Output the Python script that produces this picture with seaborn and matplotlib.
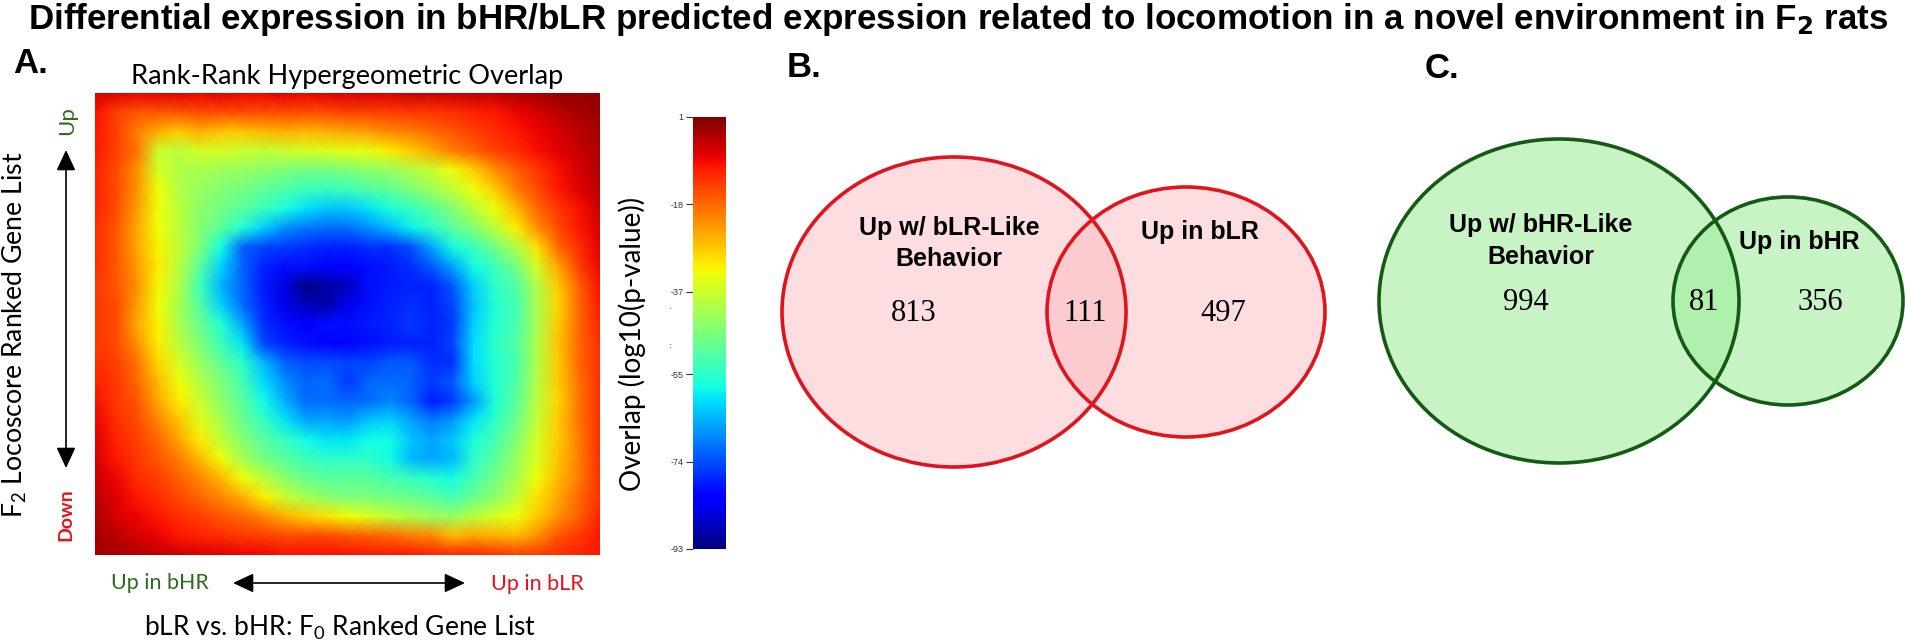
import numpy as np
import seaborn as sns
import matplotlib.pyplot as plt
from matplotlib.patches import Ellipse

# overlap surface on a coarse grid (top row first)
row00 = [-6,-7,-8,-7,-7,-8,-7,-8,-8,-7,-8,-7,-6,-6,-6,-5,-5,-5,-4,-4,-3,-2,-1,-1,-1]
row01 = [-9,-14,-16,-16,-16,-15,-15,-15,-15,-15,-15,-15,-14,-14,-14,-13,-13,-12,-11,-10,-8,-6,-4,-2,-1]
row02 = [-10,-14,-20,-25,-28,-25,-27,-27,-26,-25,-26,-25,-24,-23,-21,-20,-18,-16,-14,-12,-10,-8,-6,-4,-2]
row03 = [-10,-14,-19,-37,-39,-36,-36,-37,-38,-37,-36,-35,-34,-34,-31,-28,-24,-20,-17,-14,-12,-9,-7,-5,-3]
row04 = [-11,-15,-22,-36,-40,-41,-42,-43,-44,-46,-47,-47,-46,-44,-43,-40,-37,-33,-28,-22,-17,-13,-9,-6,-3]
row05 = [-11,-15,-22,-33,-40,-43,-45,-47,-49,-51,-53,-54,-53,-51,-49,-46,-42,-38,-33,-28,-20,-15,-10,-7,-4]
row06 = [-11,-15,-23,-33,-39,-44,-47,-50,-53,-57,-60,-63,-63,-60,-57,-54,-50,-45,-39,-33,-26,-18,-13,-9,-5]
row07 = [-12,-16,-24,-33,-39,-45,-50,-56,-62,-68,-70,-71,-71,-68,-64,-59,-55,-50,-45,-39,-31,-22,-15,-10,-6]
row08 = [-12,-16,-24,-32,-38,-46,-58,-72,-75,-76,-77,-78,-78,-77,-77,-74,-66,-58,-53,-47,-40,-30,-18,-12,-7]
row09 = [-12,-16,-23,-31,-39,-50,-62,-72,-78,-80,-80,-81,-81,-80,-79,-77,-73,-66,-58,-53,-47,-36,-24,-14,-8]
row10 = [-13,-16,-22,-32,-40,-53,-65,-72,-79,-85,-92,-90,-88,-80,-79,-78,-78,-73,-62,-55,-51,-40,-28,-17,-9]
row11 = [-13,-15,-23,-33,-41,-51,-62,-71,-78,-84,-88,-89,-84,-80,-78,-77,-78,-75,-63,-56,-52,-41,-29,-18,-10]
row12 = [-13,-15,-24,-32,-41,-48,-56,-66,-77,-80,-81,-80,-80,-79,-78,-76,-78,-76,-62,-56,-52,-41,-28,-18,-11]
row13 = [-13,-15,-22,-31,-39,-46,-53,-60,-75,-78,-80,-81,-81,-80,-79,-78,-78,-75,-61,-55,-51,-40,-27,-18,-12]
row14 = [-12,-14,-19,-29,-36,-43,-49,-55,-64,-72,-74,-74,-75,-75,-73,-73,-77,-77,-61,-56,-52,-40,-28,-18,-12]
row15 = [-11,-13,-18,-26,-33,-40,-46,-52,-61,-68,-72,-71,-76,-72,-71,-72,-76,-73,-62,-56,-51,-40,-28,-19,-12]
row16 = [-9,-13,-16,-24,-31,-37,-44,-50,-58,-65,-71,-71,-72,-71,-69,-72,-79,-76,-67,-57,-50,-39,-29,-19,-12]
row17 = [-8,-12,-15,-21,-27,-35,-41,-48,-54,-60,-66,-66,-67,-63,-62,-66,-70,-67,-60,-55,-48,-38,-28,-19,-12]
row18 = [-7,-11,-14,-18,-24,-31,-38,-45,-50,-54,-58,-60,-60,-58,-58,-63,-66,-63,-57,-52,-45,-36,-28,-20,-12]
row19 = [-6,-10,-13,-16,-20,-26,-33,-41,-47,-50,-53,-55,-55,-55,-58,-64,-66,-64,-55,-50,-43,-35,-27,-20,-12]
row20 = [-5,-8,-12,-14,-17,-21,-26,-33,-39,-44,-48,-50,-50,-50,-52,-54,-56,-58,-52,-47,-41,-33,-26,-20,-12]
row21 = [-4,-7,-10,-12,-15,-18,-21,-25,-31,-37,-41,-44,-46,-46,-47,-48,-50,-52,-48,-44,-38,-30,-24,-18,-12]
row22 = [-3,-6,-8,-10,-12,-14,-16,-18,-21,-25,-28,-30,-33,-35,-38,-40,-42,-43,-39,-36,-33,-28,-22,-17,-11]
row23 = [-2,-4,-6,-8,-10,-11,-12,-13,-14,-15,-15,-15,-16,-17,-18,-20,-21,-26,-24,-25,-26,-22,-16,-13,-10]
row24 = [-2,-2,-3,-4,-5,-6,-7,-8,-8,-9,-9,-9,-9,-10,-10,-10,-11,-11,-11,-12,-13,-13,-12,-11,-10]
overlap = np.array([row00, row01, row02, row03, row04, row05, row06, row07, row08, row09,
                    row10, row11, row12, row13, row14, row15, row16, row17, row18, row19,
                    row20, row21, row22, row23, row24])

cbar_ticks = [1, -18, -37, -55, -74, -93]
counts_b = ["813", "111", "497"]
counts_c = ["994", "81", "356"]

W, H = 1908, 644
sns.set_theme(style="white")
plt.rcParams["font.family"] = ["Lato", "DejaVu Sans"]
plt.rcParams["mathtext.default"] = "regular"

fig = plt.figure(figsize=(W / 100, H / 100), dpi=100)


def px_axes(x0, y0, x1, y1, **kw):
    return fig.add_axes([x0 / W, 1 - y1 / H, (x1 - x0) / W, (y1 - y0) / H], **kw)


ax = px_axes(95, 93, 600, 555)
cax = px_axes(693, 117, 726, 549)
sns.heatmap(overlap, cmap="jet", vmin=-93, vmax=1, ax=ax, cbar_ax=cax,
            xticklabels=False, yticklabels=False, shading="gouraud")
ax.set_xlim(0, overlap.shape[1] - 1)
ax.set_ylim(overlap.shape[0] - 1, 0)

cbar = ax.collections[0].colorbar
cbar.set_ticks(cbar_ticks)
cbar.set_ticklabels([str(t) for t in cbar_ticks])
cax.yaxis.set_ticks_position("left")
cax.tick_params(left=True, length=5, width=0.8, labelsize=6.5, pad=2, color="#333333", labelcolor="#333333")
for lab in cax.get_yticklabels():
    lab.set_family("Liberation Sans")

# everything else goes on a full-figure overlay in pixel units
top = px_axes(0, 0, W, H, facecolor="none", zorder=5)
top.set_xlim(0, W)
top.set_ylim(H, 0)
top.axis("off")

sans = "Liberation Sans"
top.text(28, 29, r"Differential expression in bHR/bLR predicted expression related to locomotion in a novel environment in F$_{\mathbf{2}}$ rats",
         family=sans, weight="bold", fontsize=25.2, color="black", va="baseline", ha="left")
for lab, x, y in [("A.", 13, 73), ("B.", 787, 77), ("C.", 1425, 78)]:
    top.text(x, y, lab, family=sans, weight="bold", fontsize=25, va="baseline", color="black")

top.text(347, 76, "Rank-Rank Hypergeometric Overlap", fontsize=19.6, ha="center", va="center", color="black")
top.text(15, 335, "F$_2$ Locoscore Ranked Gene List", fontsize=19.2, rotation=90, ha="center", va="center", color="black")
top.text(340, 628, "bLR vs. bHR: F$_0$ Ranked Gene List", fontsize=19, ha="center", va="center", color="black")
top.text(632, 344, "Overlap (log10(p-value))", fontsize=20, rotation=90, ha="center", va="center", color="black")

green_txt = "#2F6B1E"
red_txt = "#E3141B"
top.text(67, 121, "Up", fontsize=16, rotation=90, ha="center", va="center", color=green_txt)
top.text(66, 515, "Down", fontsize=14, rotation=90, ha="center", va="center", color=red_txt, weight="bold")
top.text(160, 583, "Up in bHR", fontsize=15.4, ha="center", va="center", color=green_txt)
top.text(537, 584, "Up in bLR", fontsize=15.6, ha="center", va="center", color=red_txt)

arrow = dict(arrowstyle="<|-|>,head_length=0.9,head_width=0.42", color="black", lw=1.2, shrinkA=0, shrinkB=0, mutation_scale=14)
top.annotate("", xy=(66, 150), xytext=(66, 468), arrowprops=arrow)
top.annotate("", xy=(233, 583), xytext=(465, 583), arrowprops=arrow)

# stray specks next to the colour bar
top.text(670, 306, ".", fontsize=5, ha="center", va="center", color="#333333")
top.text(670, 345, ":", fontsize=5, ha="center", va="center", color="#333333")


def venn(c1, c2, fill, alpha, edge):
    for cx, cy, rx, ry in (c1, c2):
        top.add_patch(Ellipse((cx, cy), 2 * rx, 2 * ry, facecolor=fill, alpha=alpha, edgecolor="none"))
    for cx, cy, rx, ry in (c1, c2):
        top.add_patch(Ellipse((cx, cy), 2 * rx, 2 * ry, fill=False, edgecolor=edge, lw=2.6))


venn((954, 312, 172, 155), (1186, 312, 139, 125), "#FBB7BF", 0.47, "#E0141C")
venn((1559, 301, 180, 162), (1788, 301, 115, 104), "#9DED99", 0.56, "#145A14")

bold = dict(family=sans, weight="bold", fontsize=18, ha="center", va="center", color="black")
top.text(949, 228, "Up w/ bLR-Like", **bold)
top.text(949, 259, "Behavior", **bold)
top.text(1200, 232, "Up in bLR", **bold)
top.text(1541, 225, "Up w/ bHR-Like", **bold)
top.text(1541, 257, "Behavior", **bold)
top.text(1799, 242, "Up in bHR", **bold)

num = dict(family="Liberation Serif", fontsize=22, ha="center", va="center", color="black")
for s, x in zip(counts_b, [914, 1085, 1223]):
    top.text(x, 313, s, **num)
for s, x in zip(counts_c, [1526, 1704, 1820]):
    top.text(x, 302, s, **num)

fig.savefig("out.png", dpi=100)
